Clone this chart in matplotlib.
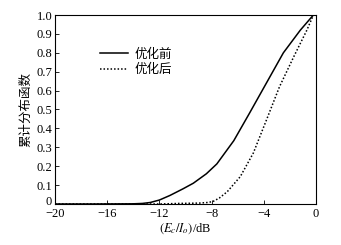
import numpy as np
import matplotlib
matplotlib.use("Agg")
import matplotlib.pyplot as plt
from matplotlib.transforms import ScaledTranslation

# CDF curves
x_before = [-20, -17, -14, -13.3, -12.7, -12.0, -11.2, -10.2, -9.4, -8.4, -7.6,
            -6.3, -5.1, -3.8, -2.5, -1.2, -0.2, 0]
y_before = [0, 0, 0.001, 0.003, 0.008, 0.021, 0.045, 0.08, 0.11, 0.16, 0.212,
            0.335, 0.48, 0.64, 0.80, 0.92, 1.0, 1.0]
x_after = [-20, -12, -10.5, -9.5, -8.9, -8.3, -7.9, -7.4, -6.8, -5.8, -4.8,
           -3.8, -2.8, -1.7, -0.7, -0.2, 0]
y_after = [0, 0, 0.003, 0.004, 0.005, 0.008, 0.013, 0.032, 0.065, 0.145, 0.27,
           0.444, 0.62, 0.78, 0.92, 1.0, 1.0]
x_ticks = [-20, -16, -12, -8, -4, 0]
y_ticks = [0, 0.1, 0.2, 0.3, 0.4, 0.5, 0.6, 0.7, 0.8, 0.9, 1.0]
y_tick_labels = ["0", "0.1", "0.2", "0.3", "0.4", "0.5", "0.6", "0.7", "0.8", "0.9", "1.0"]

plt.rcParams['font.family'] = ['Liberation Serif', 'Noto Sans CJK SC']
plt.rcParams['mathtext.fontset'] = 'stix'

fig = plt.figure(figsize=(3.41, 2.45), dpi=100)
ax = fig.add_axes([55 / 341, 1 - 204 / 245, 261 / 341, 189 / 245])

ax.plot(x_before, y_before, color='black', lw=1.1, label='优化前')
ax.plot(x_after, y_after, color='black', lw=1.1, ls=(0, (1, 1.3)), label='优化后')

ax.set_xlim(-20, 0)
ax.set_ylim(0, 1.0)
ax.set_xticks(x_ticks)
ax.set_yticks(y_ticks)
ax.set_yticklabels(y_tick_labels)
ax.tick_params(direction='in', length=3, width=0.6, labelsize=9, pad=2)
ax.tick_params(axis='x', pad=3)
for s in ax.spines.values():
    s.set_linewidth(0.8)

# nudge the "0" label up a little so it clears "-20"
zero_lbl = ax.yaxis.get_major_ticks()[0].label1
zero_lbl.set_transform(zero_lbl.get_transform() + ScaledTranslation(0, 2.5 / 72, fig.dpi_scale_trans))

ax.set_xlabel(r'$(E_c/I_o)$/dB', fontsize=9, labelpad=1)
ax.set_ylabel('累计分布函数', fontsize=9, family=['Noto Sans CJK SC'], labelpad=3)

leg = ax.legend(loc='upper left', bbox_to_anchor=(0.15, 0.86), frameon=False,
                prop={'family': ['Noto Sans CJK SC'], 'size': 9},
                handlelength=2.2, labelspacing=0.2, borderpad=0, handletextpad=0.5)

fig.savefig('out.png', dpi=100)
